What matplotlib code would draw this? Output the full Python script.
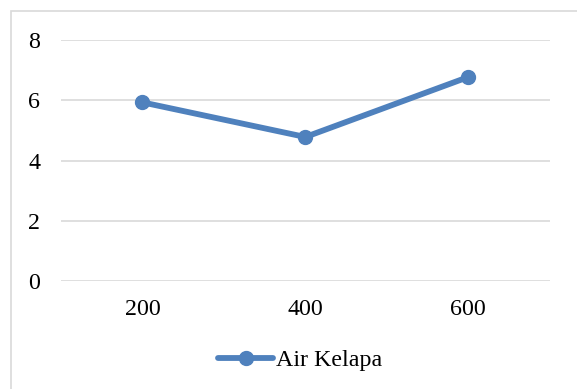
import matplotlib.pyplot as plt
from matplotlib.patches import Rectangle

# data
categories = ['200', '400', '600']
values = [5.93, 4.78, 6.77]
series_name = 'Air Kelapa'
yticks = [0, 2, 4, 6, 8]

blue = '#4F81BD'
grid = '#D9D9D9'

plt.rcParams['font.family'] = ['Liberation Serif', 'DejaVu Serif']

fig = plt.figure(figsize=(5.77, 3.89), dpi=100)
ax = fig.add_axes([0.1057, 0.2776, 0.8470, 0.6196])

# outer chart border (cut off at right and bottom, like the source image)
fig.patches.append(Rectangle((11 / 577, -0.05), 1.1, 1 - 11 / 389 + 0.05,
                             transform=fig.transFigure, fill=False,
                             edgecolor=grid, linewidth=1.2))

x = range(len(categories))
ax.plot(x, values, color=blue, linewidth=4.2, marker='o', markersize=10,
        solid_capstyle='round', label=series_name, zorder=3)

ax.set_xlim(-0.5, len(categories) - 0.5)
ax.set_ylim(0, 8)
ax.set_xticks(list(x))
ax.set_xticklabels(categories)
ax.set_yticks(yticks)
ax.yaxis.grid(True, color=grid, linewidth=1.2)
ax.set_axisbelow(True)
for s in ax.spines.values():
    s.set_visible(False)
ax.tick_params(length=0, labelsize=17.3, colors='black')
ax.tick_params(axis='y', pad=15)
ax.tick_params(axis='x', pad=13)

ax.legend(loc='center', bbox_to_anchor=(300 / 577, 1 - 360 / 389),
          bbox_transform=fig.transFigure, frameon=False, fontsize=17.3,
          handlelength=2.3, handletextpad=0.1)

fig.savefig('out.png', dpi=100)
